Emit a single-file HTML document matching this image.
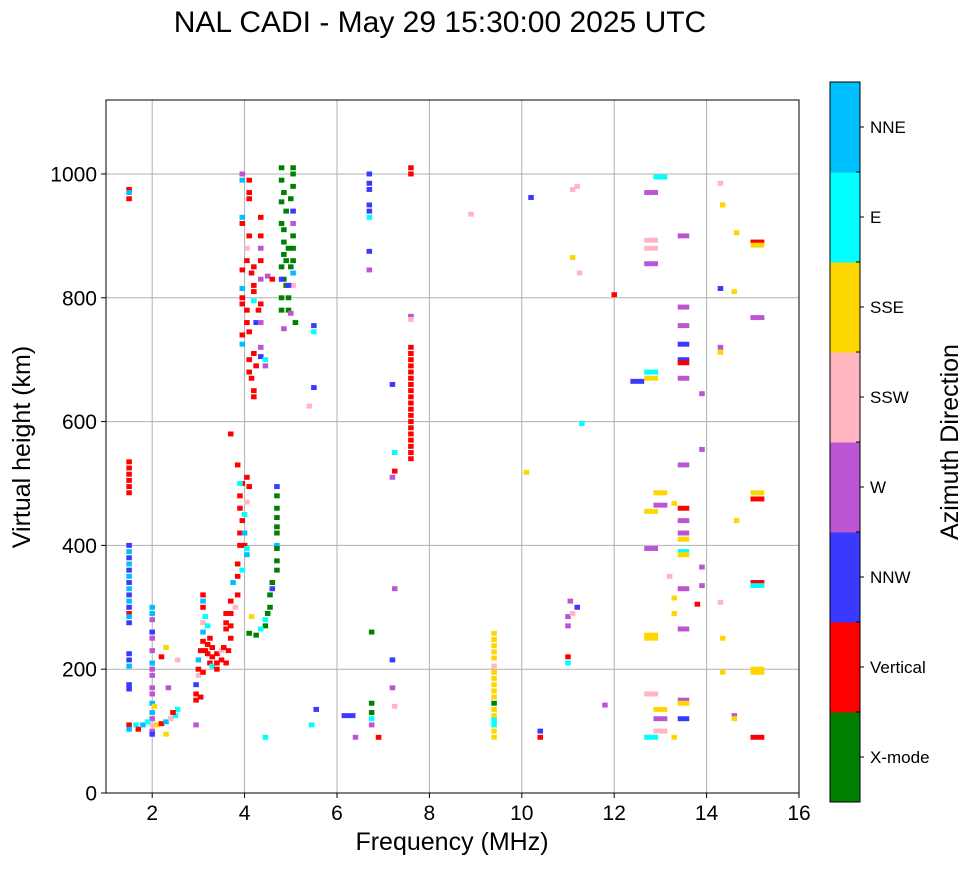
<!DOCTYPE html>
<html><head><meta charset="utf-8"><style>
body{margin:0;background:#fff;}
svg text{font-family:"Liberation Sans","DejaVu Sans",sans-serif;}
</style></head><body>
<svg id="chart" width="972" height="865" viewBox="0 0 972 865" xmlns="http://www.w3.org/2000/svg">
<text x="440" y="32" font-size="30" text-anchor="middle">NAL CADI - May 29 15:30:00 2025 UTC</text>
<g id="grid"></g>
<g id="marks"></g>
<rect x="106" y="100" width="693" height="693" fill="none" stroke="#000" stroke-width="1"/>
<g id="axes"></g>
<text x="452" y="850" font-size="25" text-anchor="middle">Frequency (MHz)</text>
<text x="0" y="0" font-size="25" text-anchor="middle" transform="translate(30,447) rotate(-90)">Virtual height (km)</text>
<g id="cbar"></g>
<text x="0" y="0" font-size="25" text-anchor="middle" transform="translate(958,442) rotate(-90)">Azimuth Direction</text>
</svg>
<script>
const categories=["X-mode","Vertical","NNW","W","SSW","SSE","E","NNE"];
const colors=["#008000","#ff0000","#3a3aff","#ba55d3","#ffb6c1","#ffd700","#00ffff","#00bfff"];
const xTicks=[2,4,6,8,10,12,14,16];
const yTicks=[0,200,400,600,800,1000];
// [freq MHz, virtual height km, direction index, optional width MHz]
const echoes=[
[1.5,975,1],[1.5,970,7],[1.5,960,1],[1.5,535,1],[1.5,525,1],[1.5,515,1],[1.5,505,1],[1.5,495,1],[1.5,485,1],
[1.5,400,2],[1.5,390,7],[1.5,380,2],[1.5,370,7],[1.5,360,2],[1.5,350,7],[1.5,340,2],[1.5,330,7],[1.5,320,2],[1.5,310,7],[1.5,300,2],[1.5,290,1],[1.5,285,7],[1.5,275,2],[1.5,225,2],[1.5,215,2],[1.5,205,7],[1.5,175,2],[1.5,168,2],[1.5,110,1],[1.5,103,7],
[2.0,300,7],[2.0,290,7],[2.0,280,3],[2.0,260,2],[2.0,250,3],[2.0,230,3],[2.0,210,7],[2.0,200,3],[2.0,190,3],[2.0,170,3],[2.0,160,3],[2.0,145,7],[2.0,130,7],[2.0,120,3],[2.0,110,4],[2.0,100,3],[2.0,95,2],
[1.65,110,6],[1.7,103,1],[1.8,110,7],[1.9,115,6],[2.1,110,5],[2.2,112,1],[2.3,115,7],[2.4,120,4],[2.5,125,6],[2.55,135,6],[2.3,95,5],[2.2,220,1],[2.3,235,5],[2.55,215,4],[2.45,130,1],[2.05,140,5],[2.35,170,3],
[2.95,160,1],[2.95,175,2],[2.95,150,1],[3.05,155,1],[3.0,200,1],[3.0,215,7],[3.05,230,1],[3.1,245,1],[3.1,260,7],[3.1,275,4],[3.1,300,1],[3.1,310,7],[3.1,320,1],[3.2,240,1],[3.2,225,1],[3.25,210,1],[3.3,220,1],[3.3,205,6],[3.3,235,1],[3.4,210,1],[3.4,225,1],[3.5,230,4],[3.5,215,1],[3.55,235,1],[3.6,210,1],[3.65,230,1],[3.7,250,1],[3.7,270,1],[3.7,290,1],[3.7,310,1],[3.75,340,7],[3.85,350,1],[3.85,370,1],[3.9,400,1],[3.9,420,1],[3.95,440,1],[3.9,460,1],[3.9,480,1],[3.95,500,1],[3.85,530,1],[3.95,360,6],[3.85,320,1],[3.8,300,4],[3.6,290,1],[3.6,265,1],[3.6,275,1],[3.2,270,6],[3.15,285,6],[3.0,190,4],[3.1,195,1],[2.95,110,3],[3.7,580,1],[4.05,510,1],[4.1,495,1],[4.0,400,1],[4.05,395,6],[4.0,450,6],[4.0,420,7],[4.15,285,5],[4.05,470,4],[4.05,385,7],[3.9,500,6],[3.4,200,1],[3.25,250,1],[3.15,230,1],
[3.95,1000,3],[3.95,990,7],[4.1,990,1],[4.1,970,1],[4.1,960,1],[3.95,920,1],[3.95,930,7],[4.1,900,1],[4.05,880,4],[4.05,860,1],[3.95,845,1],[4.15,840,1],[4.2,850,1],[4.2,820,1],[3.95,815,7],[3.95,800,1],[3.95,790,1],[4.05,780,1],[4.05,760,1],[4.1,745,1],[3.95,740,1],[3.95,725,7],[4.1,700,1],[4.1,680,1],[4.15,670,1],[4.2,650,1],[4.2,640,1],[4.25,690,1],[4.2,710,1],[4.25,760,2],[4.3,780,1],[4.35,720,3],[4.35,705,2],[4.45,700,6],[4.45,690,3],[4.35,760,3],[4.35,790,1],[4.35,830,3],[4.35,860,1],[4.35,880,3],[4.35,900,1],[4.35,930,1],[4.2,795,6],[4.2,810,1],[4.5,835,3],[4.6,830,1],
[4.8,1010,0],[4.8,990,0],[4.85,970,0],[4.8,955,0],[4.9,940,0],[4.8,920,0],[4.85,910,0],[4.85,890,0],[4.85,870,0],[4.9,860,0],[4.8,850,0],[4.85,830,0],[4.9,820,0],[4.8,800,0],[4.8,780,0],[4.95,800,0],[4.95,780,0],[5.05,1010,0],[5.05,1000,0],[5.05,980,0],[5.05,940,2],[5.05,920,3],[5.05,900,0],[5.05,880,0],[5.05,860,0],[5.05,840,7],[5.05,820,4],[5.1,760,0],[4.95,820,2],[5.0,850,0],[4.95,880,0],[4.8,830,2],[5.0,960,0],[4.85,750,3],[5.5,755,2],[5.5,745,6],[5.4,625,4],[5.5,655,2],[5.0,775,3],
[4.7,495,2],[4.7,480,0],[4.7,460,0],[4.7,445,0],[4.7,430,0],[4.7,420,0],[4.7,400,7],[4.7,395,0],[4.7,375,0],[4.7,360,0],[4.6,340,0],[4.6,330,2],[4.55,320,0],[4.55,300,0],[4.5,290,0],[4.45,280,6],[4.45,270,0],[4.35,265,6],[4.25,255,0],[4.1,258,0],[4.45,90,6],
[5.55,135,2],[5.45,110,6],[6.25,125,2,0.3],[6.4,90,3],[6.7,1000,2],[6.7,985,2],[6.7,975,2],[6.7,950,2],[6.7,940,2],[6.7,930,6],[6.7,875,2],[6.7,845,3],[6.75,260,0],[6.75,145,0],[6.75,130,0],[6.75,120,6],[6.75,110,3],[6.9,90,1],[7.2,660,2],[7.25,550,6],[7.25,520,1],[7.2,510,3],[7.25,330,3],[7.2,215,2],[7.2,170,3],[7.25,140,4],[7.6,1010,1],[7.6,1000,1],[7.6,770,3],[7.6,765,4],
[7.6,720,1],[7.6,710,1],[7.6,700,1],[7.6,690,1],[7.6,680,1],[7.6,670,1],[7.6,660,1],[7.6,650,1],[7.6,640,1],[7.6,630,1],[7.6,620,1],[7.6,610,1],[7.6,600,1],[7.6,590,1],[7.6,580,1],[7.6,570,1],[7.6,560,1],[7.6,550,1],[7.6,540,1],
[9.4,258,5],[9.4,248,5],[9.4,238,5],[9.4,228,5],[9.4,218,5],[9.4,205,4],[9.4,195,5],[9.4,185,5],[9.4,175,5],[9.4,165,5],[9.4,155,5],[9.4,145,0],[9.4,135,5],[9.4,125,5],[9.4,118,6],[9.4,110,6],[9.4,100,5],[9.4,90,5],[8.9,935,4],
[10.1,518,5],[10.2,962,2],[10.4,100,2],[10.4,90,1],[11.1,975,4],[11.2,980,4],[11.1,865,5],[11.25,840,4],[11.3,597,6],[11.05,310,3],[11.2,300,2],[11.0,285,3],[11.0,270,3],[11.1,290,4],[11.0,220,1],[11.0,210,6],[11.8,142,3],[12.0,805,1],
[12.5,665,2,0.3],[12.8,680,6,0.3],[12.8,670,5,0.3],[12.8,970,3,0.3],[13.0,995,6,0.3],[12.8,893,4,0.3],[12.8,880,4,0.3],[12.8,855,3,0.3],[12.8,455,5,0.3],[12.8,395,3,0.3],[12.8,255,5,0.3],[12.8,250,5,0.3],[12.8,160,4,0.3],[12.8,90,6,0.3],[13.0,485,5,0.3],[13.0,465,3,0.3],[13.0,135,5,0.3],[13.0,120,3,0.3],[13.0,100,4,0.3],[13.3,468,5],[13.2,350,4],[13.3,315,5],[13.3,290,5],[13.3,90,5],
[13.5,900,3,0.25],[13.5,785,3,0.25],[13.5,755,3,0.25],[13.5,725,2,0.25],[13.5,700,2,0.25],[13.5,695,1,0.25],[13.5,670,3,0.25],[13.5,530,3,0.25],[13.5,460,1,0.25],[13.5,440,3,0.25],[13.5,420,3,0.25],[13.5,410,5,0.25],[13.5,390,6,0.25],[13.5,385,5,0.25],[13.5,330,3,0.25],[13.5,265,3,0.25],[13.5,150,3,0.25],[13.5,145,5,0.25],[13.5,120,2,0.25],
[13.8,305,1],[13.9,645,3],[13.9,555,3],[13.9,365,3],[13.9,335,3],[14.3,985,4],[14.35,950,5],[14.65,905,5],[14.3,815,2],[14.6,810,5],[14.3,720,3],[14.3,712,5],[14.3,308,4],[14.35,250,5],[14.35,195,5],[14.6,125,3],[14.6,120,5],[14.65,440,5],
[15.1,890,1,0.3],[15.1,885,5,0.3],[15.1,768,3,0.3],[15.1,485,5,0.3],[15.1,475,1,0.3],[15.1,340,1,0.3],[15.1,335,6,0.3],[15.1,200,5,0.3],[15.1,195,5,0.3],[15.1,90,1,0.3]
];
const NS="http://www.w3.org/2000/svg";
const X0=106,X1=799,Y0=793,Y1=100,XMIN=1,XMAX=16,YMIN=0,YMAX=1119.5;
const xs=v=>X0+(v-XMIN)/(XMAX-XMIN)*(X1-X0);
const ys=v=>Y0-(v-YMIN)/(YMAX-YMIN)*(Y0-Y1);
function mk(tag,attrs,parent){const e=document.createElementNS(NS,tag);for(const k in attrs)e.setAttribute(k,attrs[k]);parent.appendChild(e);return e;}
const grid=document.getElementById('grid'),axes=document.getElementById('axes'),marks=document.getElementById('marks'),cbar=document.getElementById('cbar');
xTicks.forEach(t=>{const x=xs(t);
 const g=mk('line',{x1:x,x2:x,y1:Y1,y2:Y0,stroke:'#b0b0b0','stroke-width':1},grid);
 
 
 mk('line',{x1:x,x2:x,y1:Y0,y2:Y0+5,stroke:'#000'},axes);
 const l=mk('text',{x:x,y:Y0+27,'font-size':21,'text-anchor':'middle'},axes);l.textContent=t;
 
 
});
yTicks.forEach(t=>{const y=ys(t);
 const g=mk('line',{x1:X0,x2:X1,y1:y,y2:y,stroke:'#b0b0b0','stroke-width':1},grid);
 
 
 mk('line',{x1:X0-5,x2:X0,y1:y,y2:y,stroke:'#000'},axes);
 const l=mk('text',{x:X0-9,y:y+7.5,'font-size':21,'text-anchor':'end'},axes);l.textContent=t;
 
 
});
echoes.forEach(d=>{const w=d[3]||0.12;const h=8;
 const r=mk('rect',{x:xs(d[0]-w/2),y:ys(d[1]+h/2),width:xs(d[0]+w/2)-xs(d[0]-w/2),height:ys(d[1]-h/2)-ys(d[1]+h/2),fill:colors[d[2]]},marks);
 
 
});
const CX=830,CW=30,CT=82,CB=802,seg=(CB-CT)/categories.length;
categories.forEach((c,i)=>{const y=CB-(i+1)*seg;
 const r=mk('rect',{x:CX,y:y,width:CW,height:seg+0.5,fill:colors[i]},cbar);
 
 
 mk('line',{x1:CX+CW,x2:CX+CW+4,y1:y+seg/2,y2:y+seg/2,stroke:'#000'},cbar);
 const l=mk('text',{x:CX+CW+10,y:y+seg/2+6,'font-size':17},cbar);l.textContent=c;
 
 
});
for(let i=0;i<=categories.length;i++){const y=CT+i*seg;mk('line',{x1:CX+CW-4,x2:CX+CW,y1:y,y2:y,stroke:'#000'},cbar);}
mk('rect',{x:CX,y:CT,width:CW,height:CB-CT,fill:'none',stroke:'#000'},cbar);
</script>
</body></html>
